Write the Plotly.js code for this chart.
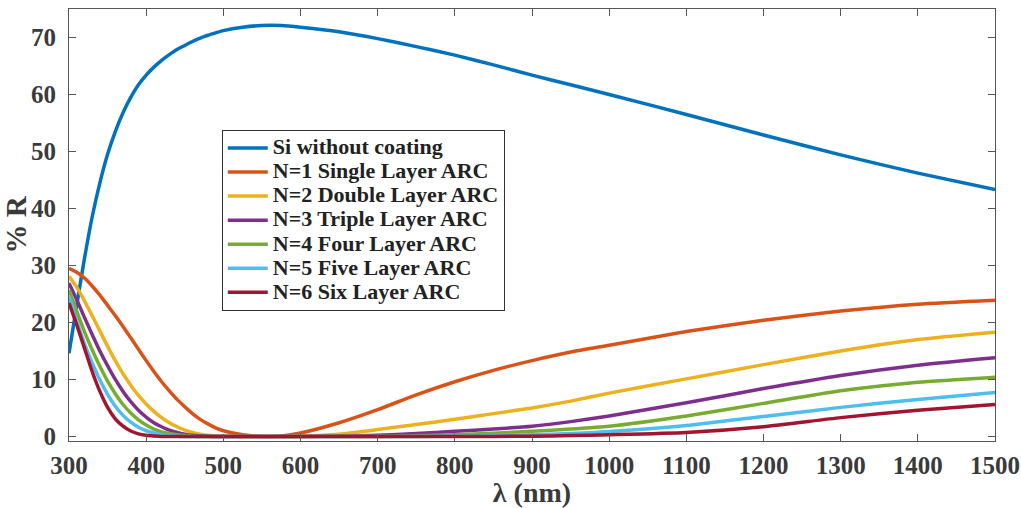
<!DOCTYPE html>
<html>
<head>
<meta charset="utf-8">
<script src="https://cdn.plot.ly/plotly-3.0.1.min.js"></script>
<style>
html,body{margin:0;padding:0;background:#fff;}
#chart{width:1021px;height:508px;}
.legendtext{font-size:22px !important;}
</style>
</head>
<body>
<div id="chart"></div>
<script>
const wavelength = [300,310,320,330,340,350,360,370,380,390,400,410,420,430,440,450,460,470,480,490,500,525,550,575,600,650,700,750,800,850,900,950,1000,1100,1200,1300,1400,1500];
const siNoCoating = [14.6,23.0,31.2,38.5,44.5,49.5,53.5,56.8,59.5,61.7,63.4,64.8,66.0,67.0,67.9,68.6,69.3,69.9,70.4,70.8,71.2,71.8,72.1,72.1,71.8,71.0,69.8,68.4,66.9,65.2,63.4,61.7,60.0,56.5,52.9,49.4,46.2,43.3];
const singleLayer = [29.5,28.8,27.8,26.4,24.8,23.0,21.2,19.3,17.3,15.3,13.3,11.4,9.6,8.0,6.5,5.2,4.0,3.0,2.2,1.5,1.0,0.3,0.0,0.1,0.6,2.4,4.7,7.3,9.6,11.6,13.3,14.8,16.0,18.4,20.4,22.0,23.2,23.9];
const doubleLayer = [28.1,26.2,23.8,21.2,18.5,15.8,13.3,11.0,9.0,7.2,5.7,4.4,3.3,2.4,1.7,1.1,0.7,0.4,0.2,0.1,0.05,0.0,0.0,0.0,0.05,0.4,1.2,2.1,3.0,4.0,5.0,6.2,7.6,10.1,12.6,15.0,17.0,18.3];
const tripleLayer = [26.9,24.0,20.9,17.9,15.0,12.4,10.0,7.9,6.1,4.6,3.4,2.4,1.7,1.1,0.7,0.4,0.2,0.1,0.05,0.0,0.0,0.0,0.0,0.0,0.0,0.05,0.2,0.5,0.9,1.3,1.8,2.6,3.6,5.9,8.4,10.7,12.5,13.8];
const fourLayer = [25.7,22.0,18.4,15.2,12.3,9.7,7.5,5.6,4.1,2.9,2.0,1.3,0.8,0.5,0.3,0.15,0.05,0.0,0.0,0.0,0.0,0.0,0.0,0.0,0.0,0.0,0.0,0.1,0.3,0.55,0.9,1.3,1.8,3.6,5.8,8.0,9.5,10.4];
const fiveLayer = [24.6,20.3,16.3,12.9,9.9,7.4,5.3,3.7,2.5,1.6,1.0,0.6,0.3,0.15,0.05,0.0,0.0,0.0,0.0,0.0,0.0,0.0,0.0,0.0,0.0,0.0,0.0,0.0,0.05,0.15,0.3,0.5,0.85,1.9,3.5,5.1,6.5,7.7];
const sixLayer = [23.4,19.6,15.5,11.4,7.9,5.1,3.1,1.8,0.95,0.45,0.2,0.08,0.0,0.0,0.0,0.0,0.0,0.0,0.0,0.0,0.0,0.0,0.0,0.0,0.0,0.0,0.0,0.0,0.0,0.0,0.05,0.15,0.3,0.7,1.7,3.3,4.6,5.6];

const seriesNames = ["Si without coating","N=1 Single Layer ARC","N=2 Double Layer ARC","N=3 Triple Layer ARC","N=4 Four Layer ARC","N=5 Five Layer ARC","N=6 Six Layer ARC"];
const seriesValues = [siNoCoating,singleLayer,doubleLayer,tripleLayer,fourLayer,fiveLayer,sixLayer];
const seriesColors = ["#0072BD","#D95319","#EDB120","#7E2F8E","#77AC30","#4DBEEE","#A2142F"];
const xTicks = [300,400,500,600,700,800,900,1000,1100,1200,1300,1400,1500];
const yTicks = [0,10,20,30,40,50,60,70];

const traces = seriesValues.map((vals,i)=>({
  x: wavelength, y: vals, name: seriesNames[i], type:'scatter', mode:'lines',
  line:{color:seriesColors[i], width:3.5, shape:'spline', smoothing:0.6}
}));
const fam = 'Liberation Serif, Times New Roman, serif';
const layout = {
  width:1021, height:508,
  margin:{l:69, r:26, t:9, b:67},
  paper_bgcolor:'#fff', plot_bgcolor:'#fff',
  showlegend:true,
  legend:{x:0.165, y:0.72, xanchor:'left', yanchor:'top', bgcolor:'#fff', bordercolor:'#333', borderwidth:1,
    font:{family:fam, size:16.2, color:'#222', weight:'bold'}, tracegroupgap:0, itemwidth:40},
  xaxis:{range:[300,1500], tickvals:xTicks, ticktext:xTicks.map(String), ticks:'inside', ticklen:7, tickcolor:'#555',
    showline:true, linecolor:'#555', linewidth:1, mirror:'ticks', showgrid:false, zeroline:false,
    ticklabelstandoff:2,
    tickfont:{family:fam, size:25, color:'#3a3a3a', weight:'bold'},
    title:{text:'λ (nm)', font:{family:fam, size:28, color:'#3a3a3a', weight:'bold'}, standoff:4}},
  yaxis:{range:[-0.8,75], tickvals:yTicks, ticktext:yTicks.map(String), ticks:'inside', ticklen:7, tickcolor:'#555',
    showline:true, linecolor:'#555', linewidth:1, mirror:'ticks', showgrid:false, zeroline:false,
    ticklabelstandoff:7,
    tickfont:{family:fam, size:25, color:'#3a3a3a', weight:'bold'},
    title:{text:'% R', font:{family:fam, size:29, color:'#3a3a3a', weight:'bold'}, standoff:0}}
};
Plotly.newPlot('chart', traces, layout, {displayModeBar:false, staticPlot:true});
</script>
</body>
</html>
